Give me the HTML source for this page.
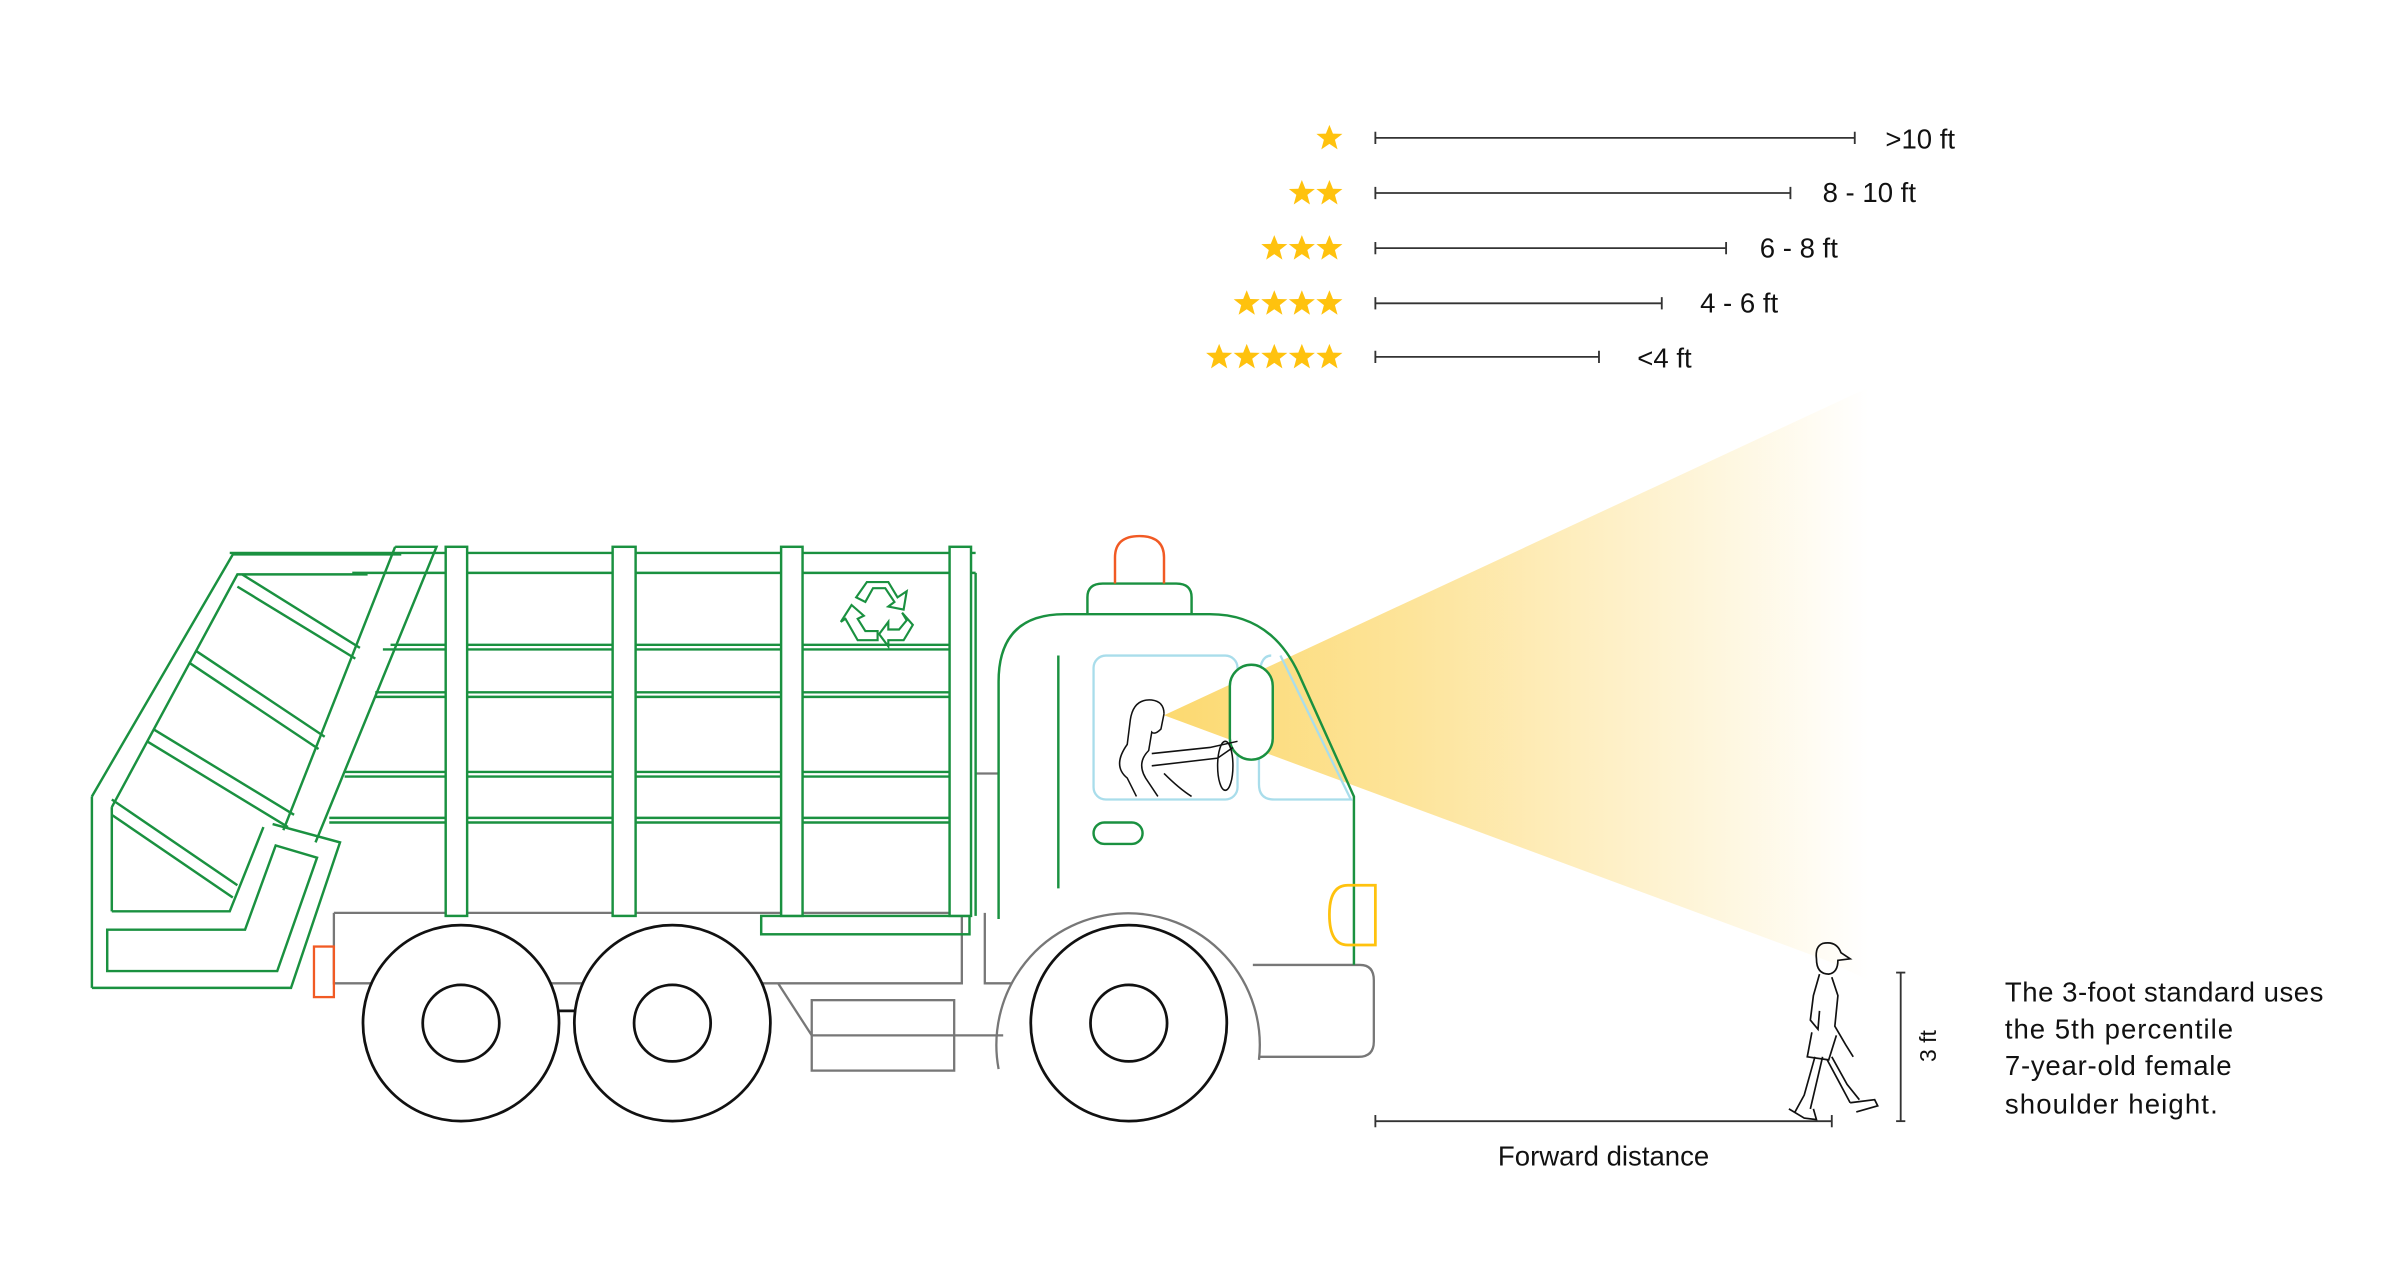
<!DOCTYPE html>
<html><head><meta charset="utf-8"><style>html,body{margin:0;padding:0;background:#fff}svg{display:block}</style></head>
<body>
<svg width="2400" height="1280" viewBox="0 0 1567 835.7" xmlns="http://www.w3.org/2000/svg" font-family="Liberation Sans, sans-serif">
<defs>
<linearGradient id="bm" x1="760" y1="0" x2="1220" y2="0" gradientUnits="userSpaceOnUse">
<stop offset="0" stop-color="#FCD970"/><stop offset="0.35" stop-color="#FDE49A"/><stop offset="1" stop-color="#FFFFFF"/>
</linearGradient>
<polygon id="st" points="0,-8.5 2.3,-2.8 8.5,-2.6 3.6,1.2 5.3,7.5 0,3.9 -5.3,7.5 -3.6,1.2 -8.5,-2.6 -2.3,-2.8" fill="#FFC20E"/>
</defs>
<!-- beam -->
<polygon points="760,467 1220,253 1220,640 1195,628" fill="url(#bm)"/>

<!-- rating rows -->
<g stroke="#333" stroke-width="1.2">
<line x1="898" y1="90" x2="1211" y2="90"/><line x1="898" y1="86" x2="898" y2="94"/><line x1="1211" y1="86" x2="1211" y2="94"/>
<line x1="898" y1="126" x2="1169" y2="126"/><line x1="898" y1="122" x2="898" y2="130"/><line x1="1169" y1="122" x2="1169" y2="130"/>
<line x1="898" y1="162" x2="1127" y2="162"/><line x1="898" y1="158" x2="898" y2="166"/><line x1="1127" y1="158" x2="1127" y2="166"/>
<line x1="898" y1="198" x2="1085" y2="198"/><line x1="898" y1="194" x2="898" y2="202"/><line x1="1085" y1="194" x2="1085" y2="202"/>
<line x1="898" y1="233" x2="1044" y2="233"/><line x1="898" y1="229" x2="898" y2="237"/><line x1="1044" y1="229" x2="1044" y2="237"/>
</g>
<g>
<use href="#st" x="868" y="90"/>
<use href="#st" x="868" y="126"/><use href="#st" x="850" y="126"/>
<use href="#st" x="868" y="162"/><use href="#st" x="850" y="162"/><use href="#st" x="832" y="162"/>
<use href="#st" x="868" y="198"/><use href="#st" x="850" y="198"/><use href="#st" x="832" y="198"/><use href="#st" x="814" y="198"/>
<use href="#st" x="868" y="233"/><use href="#st" x="850" y="233"/><use href="#st" x="832" y="233"/><use href="#st" x="814" y="233"/><use href="#st" x="796" y="233"/>
</g>
<g font-size="18" fill="#111">
<text x="1231" y="97">&gt;10 ft</text>
<text x="1190" y="132">8 - 10 ft</text>
<text x="1149" y="168">6 - 8 ft</text>
<text x="1110" y="204">4 - 6 ft</text>
<text x="1069" y="240">&lt;4 ft</text>
</g>

<!-- chassis gray -->
<g fill="none" stroke="#777" stroke-width="1.5">
<path d="M218,596 L218,642 L628,642 L628,596"/>
<path d="M218,596 L628,596"/>
<path d="M643,596 L643,642 L660,642"/>
<rect x="530" y="653" width="93" height="46"/>
<line x1="530" y1="676" x2="655" y2="676"/>
<line x1="508" y1="642" x2="530" y2="676"/>
<path d="M652,698 A86,86 0 1 1 822,692"/>
<path d="M818,630 L888,630 Q897,630 897,640 L897,680 Q897,690 887,690 L822,690"/>
<line x1="637" y1="505" x2="652" y2="505"/>
</g>
<!-- wheels -->
<g fill="#fff" stroke="#111" stroke-width="1.8">
<line x1="360" y1="660" x2="380" y2="660"/>
<circle cx="301" cy="668" r="64"/><circle cx="301" cy="668" r="25"/>
<circle cx="439" cy="668" r="64"/><circle cx="439" cy="668" r="25"/>
<circle cx="737" cy="668" r="64"/><circle cx="737" cy="668" r="25"/>
</g>

<!-- body green -->
<g fill="none" stroke="#1A9140" stroke-width="1.6">
<rect x="497" y="598" width="136" height="12"/>
<line x1="230" y1="374" x2="637" y2="374"/><line x1="150" y1="361" x2="637" y2="361"/>
<line x1="255" y1="421" x2="620" y2="421"/><line x1="250" y1="424" x2="620" y2="424"/>
<line x1="245" y1="452" x2="620" y2="452"/><line x1="245" y1="455" x2="620" y2="455"/>
<line x1="225" y1="504" x2="620" y2="504"/><line x1="225" y1="507" x2="620" y2="507"/>
<line x1="215" y1="534" x2="620" y2="534"/><line x1="215" y1="537" x2="620" y2="537"/>
<line x1="637" y1="374" x2="637" y2="598"/>
<rect x="291" y="357" width="14" height="241" fill="#fff"/>
<rect x="400" y="357" width="15" height="241" fill="#fff"/>
<rect x="510" y="357" width="14" height="241" fill="#fff"/>
<rect x="620" y="357" width="14" height="241" fill="#fff"/>
<!-- tailgate -->
<path d="M60,520 L152,362 L262,362"/>
<path d="M73,527 L155,375 L240,375"/>
<line x1="60" y1="520" x2="60" y2="645"/><line x1="73" y1="527" x2="73" y2="595"/>
<path d="M60,645 L190,645 L222,550 L178,538"/>
<path d="M73,595 L150,595 L172,540"/>
<path d="M70,607 L160,607 L180,552 L207,560 L181,634 L70,634 Z"/>
<path d="M258,357 L285,357 L206,550"/><path d="M258,357 L185,542"/>
<line x1="158" y1="375" x2="235" y2="423"/><line x1="155" y1="383" x2="232" y2="430"/>
<line x1="128" y1="425" x2="212" y2="481"/><line x1="124" y1="433" x2="208" y2="489"/>
<line x1="100" y1="476" x2="192" y2="532"/><line x1="96" y1="484" x2="188" y2="540"/>
<line x1="73" y1="522" x2="155" y2="578"/><line x1="73" y1="532" x2="152" y2="586"/>
</g>
<!-- recycle -->
<g fill="none" stroke="#1A9140" stroke-width="1.4">
<path d="M566,380 L580,380 L586,390 L592,386 L590,398 L580,396 L584,393 L578,384 L570,384 L565,393 L559,390 Z"/>
<path d="M556,395 L564,402 L560,404 L565,412 L573,412 L573,418 L560,418 L552,404 L549,406 Z"/>
<path d="M589,400 L596,408 L590,418 L580,418 L580,422 L574,414 L580,406 L580,411 L587,411 L592,405 Z"/>
</g>

<!-- cab -->
<g fill="none" stroke="#1A9140" stroke-width="1.6">
<path d="M652,600 L652,445 Q652,401 695,401 L790,401 Q830,401 848,440 L884,520 L884,630"/>
<line x1="691" y1="428" x2="691" y2="580"/>
<path d="M710,401 L710,390 Q710,381 720,381 L768,381 Q778,381 778,390 L778,401"/>
<rect x="714" y="537" width="32" height="14" rx="7"/>
</g>
<path d="M728,381 L728,364 Q728,350 744,350 Q760,350 760,364 L760,381" fill="none" stroke="#F15A24" stroke-width="1.6"/>
<rect x="205" y="618" width="13" height="33" fill="none" stroke="#F15A24" stroke-width="1.5"/>
<path d="M898,578 L880,578 Q868,578 868,597 Q868,617 880,617 L898,617 Z" fill="none" stroke="#FFC20E" stroke-width="1.8"/>
<g fill="none" stroke="#A9DDEB" stroke-width="1.5">
<rect x="714" y="428" width="94" height="94" rx="8"/>
<path d="M830,428 Q822,428 822,445 L822,512 Q822,522 832,522 L882,522 L836,428"/>
</g>
<rect x="803" y="434" width="28" height="62" rx="14" fill="#fff" stroke="#1A9140" stroke-width="1.6"/>
<!-- driver -->
<g fill="none" stroke="#111" stroke-width="1">
<path d="M760,466 Q760,458 752,457 Q740,456 738,470 L736,486 Q726,500 736,508 L742,520"/>
<path d="M760,466 L758,476 Q754,480 752,478 L750,490 Q742,498 748,508 L756,520"/>
<path d="M752,492 L790,488 L808,484"/><path d="M752,500 L795,495 L805,488"/>
<path d="M760,505 Q770,515 778,520"/>
<ellipse cx="800" cy="500" rx="5" ry="16"/>
</g>

<!-- pedestrian -->
<g fill="none" stroke="#111" stroke-width="1.1">
<path d="M1190,616 Q1199,614 1202,622 L1208,626 L1200,627 Q1200,635 1194,636 Q1186,636 1186,626 Q1185,618 1190,616 Z"/>
<path d="M1188,636 L1184,650 L1182,666 L1187,672 L1188,660"/>
<path d="M1196,638 L1200,650 L1198,670 L1205,682 L1210,690"/>
<path d="M1183,674 L1180,690 L1194,692 L1199,676"/>
<path d="M1185,690 L1178,715 L1172,726"/><path d="M1190,690 L1182,724"/>
<path d="M1193,692 L1200,705 L1208,720"/><path d="M1196,690 L1206,708 L1214,718"/>
<path d="M1168,724 L1178,730 L1186,731 L1184,724"/><path d="M1208,720 L1224,718 L1226,722 L1212,726"/>
</g>
<g stroke="#333" stroke-width="1.2">
<line x1="1241" y1="635" x2="1241" y2="732"/><line x1="1238" y1="635" x2="1244" y2="635"/><line x1="1238" y1="732" x2="1244" y2="732"/>
<line x1="898" y1="732" x2="1196" y2="732"/><line x1="898" y1="728" x2="898" y2="736"/><line x1="1196" y1="728" x2="1196" y2="736"/>
</g>
<text transform="translate(1264,683) rotate(-90)" font-size="15" text-anchor="middle" fill="#111">3 ft</text>
<text x="1047" y="761" font-size="18" text-anchor="middle" fill="#111">Forward distance</text>
<g font-size="18" fill="#111">
<text x="1309" y="654" textLength="208">The 3-foot standard uses</text>
<text x="1309" y="678" textLength="149">the 5th percentile</text>
<text x="1309" y="702" textLength="148">7-year-old female</text>
<text x="1309" y="727" textLength="139">shoulder height.</text>
</g>
</svg>
</body></html>
